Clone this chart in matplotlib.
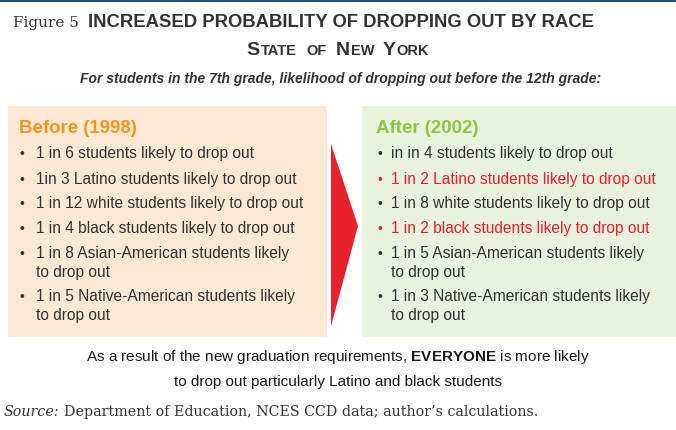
import matplotlib
matplotlib.use('Agg')
import matplotlib.pyplot as plt
from matplotlib.patches import Rectangle, Polygon

# chart content
fig_label = 'Figure 5'
title = 'INCREASED PROBABILITY OF DROPPING OUT BY RACE'
# (big initial, small-caps rest) per word of the subtitle
subtitle_words = [('S', 'TATE'), ('', 'OF'), ('N', 'EW'), ('Y', 'ORK')]
intro = 'For students in the 7th grade, likelihood of dropping out before the 12th grade:'
before_head = 'Before (1998)'
before_items = ['1 in 6 students likely to drop out',
                '1in 3 Latino students likely to drop out',
                '1 in 12 white students likely to drop out',
                '1 in 4 black students likely to drop out',
                '1 in 8 Asian-American students likely\nto drop out',
                '1 in 5 Native-American students likely\nto drop out']
after_head = 'After (2002)'
after_items = ['in in 4 students likely to drop out',
               '1 in 2 Latino students likely to drop out',
               '1 in 8 white students likely to drop out',
               '1 in 2 black students likely to drop out',
               '1 in 5 Asian-American students likely\nto drop out',
               '1 in 3 Native-American students likely\nto drop out']
after_highlight = [False, True, False, True, False, False]
summary = ['As a result of the new graduation requirements, $\\mathbf{EVERYONE}$ is more likely',
           'to drop out particularly Latino and black students']
source_label = 'Source:'
source_text = 'Department of Education, NCES CCD data; author\u2019s calculations.'

W, H = 676, 431
plt.rcParams['font.family'] = 'Liberation Sans'
plt.rcParams['mathtext.fontset'] = 'custom'
plt.rcParams['mathtext.rm'] = 'Liberation Sans'
plt.rcParams['mathtext.bf'] = 'Liberation Sans:bold'

fig = plt.figure(figsize=(W / 100, H / 100), dpi=100)
ax = fig.add_axes([0, 0, 1, 1])
ax.set_xlim(0, W)
ax.set_ylim(H, 0)
ax.axis('off')
r = fig.canvas.get_renderer()

DARK = '#333333'
RED = '#e8202a'
SERIF = 'DejaVu Serif'


def width(t):
  return t.get_window_extent(r).width


def place_runs(x, y, parts, gaps, ha='left'):
  # parts: list of (text, kwargs); laid out side by side, gaps[i] px after part i
  ts = [ax.text(0, y, s, va='baseline', **kw) for s, kw in parts]
  ws = [width(t) if s else 0 for t, (s, kw) in zip(ts, parts)]
  total = sum(ws) + sum(gaps[:len(ts) - 1])
  cx = x - total / 2 if ha == 'center' else x
  for t, w, g in zip(ts, ws, list(gaps) + [0]):
    t.set_x(cx)
    cx += w + g


# top rule
ax.add_patch(Rectangle((0, 0), W, 3, color='#1d4f91', lw=0))

# heading
ax.text(13, 27, fig_label, family=SERIF, fontsize=11, color=DARK, va='baseline')
ax.text(88, 27, title, fontsize=13.3, fontweight='bold', color=DARK, va='baseline')

# small caps subtitle
parts, gaps = [], []
for big, small in subtitle_words:
  parts.append((big, dict(fontsize=14, fontweight='bold', color=DARK)))
  parts.append((small, dict(fontsize=10.5, fontweight='bold', color=DARK)))
  gaps += [0.8, 9]
place_runs(338, 55, parts, gaps, ha='center')

ax.text(341, 79, intro, fontsize=10, fontweight='bold', style='italic', color=DARK,
        ha='center', va='center')

# boxes and arrow
ax.add_patch(Rectangle((8, 107), 319, 231, color='#fde8d3', lw=0))
ax.add_patch(Rectangle((362, 107), W - 362, 231, color='#e9f2dc', lw=0))
ax.add_patch(Polygon([(331, 145), (358, 227), (331, 327)], closed=True, color=RED, lw=0))

item_y = [154, 180, 204, 229, 254, 297]
line_step = 19


def draw_list(xb, xt, head, head_color, head_size, items, hl):
  ax.text(xb - 1, 129, head, fontsize=head_size, fontweight='bold', color=head_color, va='center')
  for y, s, h in zip(item_y, items, hl):
    c = RED if h else DARK
    ax.text(xb, y, '\u2022', fontsize=10, color=c, va='center')
    for k, line in enumerate(s.split('\n')):
      ax.text(xt, y + k * line_step, line, fontsize=11.2, color=c, va='center')


draw_list(20, 36, before_head, '#f7941d', 13.4, before_items, [False] * len(before_items))
draw_list(377, 391, after_head, '#8dc63f', 13.4, after_items, after_highlight)

# summary
ax.text(338, 357, summary[0], fontsize=11, color='#1a1a1a', ha='center', va='center')
ax.text(338, 382, summary[1], fontsize=11, color='#1a1a1a', ha='center', va='center')

# source
place_runs(4, 416, [(source_label, dict(family=SERIF, style='italic', fontsize=10.3, color=DARK)),
                    (source_text, dict(family=SERIF, fontsize=10.3, color=DARK))], 
           [4])

fig.savefig('out.png', dpi=100)
